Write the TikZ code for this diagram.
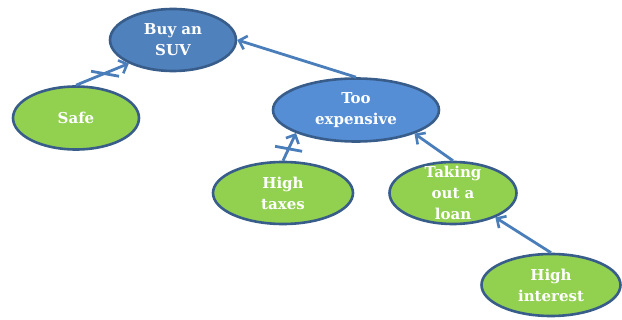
\documentclass[tikz,border=0pt]{standalone}
\usepackage{fontspec}
\setmainfont{DejaVu Serif}
\usetikzlibrary{shapes.geometric,arrows.meta}
\definecolor{darkblue}{HTML}{4F81BD}
\definecolor{lightblue}{HTML}{558ED5}
\definecolor{leaf}{HTML}{92D050}
\definecolor{rim}{HTML}{385D8A}
\definecolor{wire}{HTML}{4A7EBB}
\tikzset{
  txt/.style={text=white, font=\bfseries\fontsize{15}{21}\selectfont, align=center, inner sep=0pt},
  bubble/.style={ellipse, draw=rim, line width=2.6pt, inner sep=0pt, txt},
  link/.style={draw=wire, line width=2.8pt, -{Straight Barb[length=7pt,width=14pt,line width=2.6pt]}},
  bar/.style={draw=wire, line width=2.8pt}
}
\begin{document}
\begin{tikzpicture}[x=1pt,y=-1pt]
\useasboundingbox (0,0) rectangle (622,320);
\node[bubble, fill=darkblue, minimum width=126pt, minimum height=62pt] (buy) at (173,40) {Buy an\\SUV};
\node[bubble, fill=leaf, minimum width=126pt, minimum height=63pt] (safe) at (76,118) {Safe};
\node[bubble, fill=lightblue, minimum width=166pt, minimum height=63pt] (exp) at (356,110) {Too\\expensive};
\node[bubble, fill=leaf, minimum width=140pt, minimum height=62pt] (tax) at (283,193) {High\\taxes};
\node[bubble, fill=leaf, minimum width=127pt, minimum height=62pt,
  label={[txt]center:{Taking\\out a\\loan}}] (loan) at (453,193) {};
\node[bubble, fill=leaf, minimum width=139pt, minimum height=62pt] (int) at (551,285) {High\\interest};

\draw[link] (safe.north) -- coordinate[pos=0.55] (m1) (buy.208);
\draw[bar] ([shift={(-14,-2)}]m1) -- ([shift={(14,3)}]m1);
\draw[link] (exp.north) -- (buy.east);
\draw[link] (tax.north) -- coordinate[pos=0.43] (m2) (exp.201);
\draw[bar] ([shift={(-13.5,-2.5)}]m2) -- ([shift={(13.5,2.5)}]m2);
\draw[link] (loan.north) -- (exp.338);
\draw[link] (int.north) -- (loan.330);
\end{tikzpicture}
\end{document}
